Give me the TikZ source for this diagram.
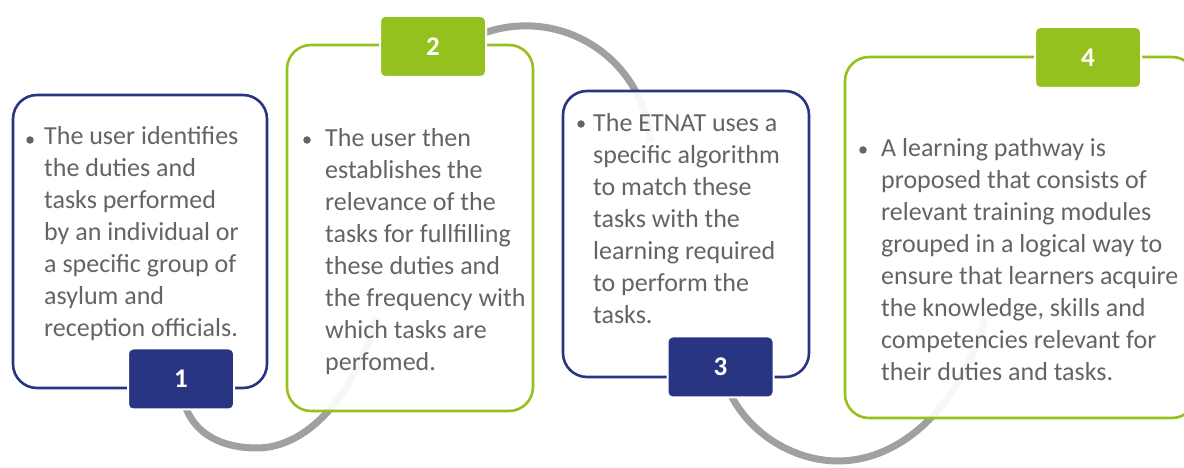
\documentclass[tikz,border=0pt]{standalone}
\usepackage{fontspec}
\setmainfont{Carlito}
\usepackage{tikz}
\usetikzlibrary{positioning}
\definecolor{stepblue}{RGB}{40, 53, 131}
\definecolor{stepgreen}{RGB}{149, 193, 31}
\definecolor{stepgrey}{RGB}{100, 100, 100}
\definecolor{pathgrey}{RGB}{160, 160, 160}
\newcommand{\steplines}[1]{\begin{tabular}[t]{@{}l@{}}#1\end{tabular}}
\tikzset{
  stepcard/.style={
    line width=2.6pt, rounded corners=24pt,
    fill=white, fill opacity=0.92, inner sep=0pt,
  },
  card blue/.style={stepcard, draw=stepblue},
  card green/.style={stepcard, draw=stepgreen},
  numtab/.style={
    draw=white, line width=2pt, rounded corners=5pt,
    minimum width=106pt, minimum height=61pt, inner sep=0pt,
    text=white, font=\fontsize{27}{27}\selectfont\bfseries,
  },
  steptext/.style={anchor=base west, inner sep=0pt, text=stepgrey,
    font=\fontsize{26}{32}\selectfont},
  dotmark/.style={circle, fill=stepgrey, minimum size=7.5pt, inner sep=0pt},
  pathline/.style={draw=pathgrey, line width=7pt},
}

\begin{document}
\begin{tikzpicture}[x=1pt, y=1pt]
\useasboundingbox (0,0) rectangle (1184,468);
\clip (0,0) rectangle (1184,468);

\coordinate (c1) at (181,89);
\coordinate (c2) at (433,421.5);
\coordinate (c3) at (720.5,101);
\coordinate (c4) at (1088,410.5);
\coordinate (e1) at (377,151);
\coordinate (e3) at (985,150);

\draw[pathline] (c1) .. controls (181,40) and (215,20) .. (257,20)
  .. controls (300,20) and (350,60) .. (e1);
\draw[pathline] ([xshift=38pt, yshift=8pt]c2) arc[start angle=116, end angle=4, radius=125pt];
\draw[pathline] (c3) .. controls (735,40) and (790,7) .. (838,7)
  .. controls (900,7) and (960,60) .. (e3);

\node[card blue, minimum width=254pt, minimum height=293pt] (b1) at (140,226.5) {};
\node[card green, minimum width=246pt, minimum height=366pt] (b2) at (410,240) {};
\node[card blue, minimum width=246pt, minimum height=286pt] (b3) at (686,234) {};
\node[card green, minimum width=351pt, minimum height=361pt] (b4) at (1020.5,230.5) {};

\node[numtab, fill=stepblue] (n1) at (c1) {1};
\node[numtab, fill=stepgreen] (n2) at (c2) {2};
\node[numtab, fill=stepblue] (n3) at (c3) {3};
\node[numtab, fill=stepgreen] (n4) at (c4) {4};

\node[dotmark] (d1) at (30,328) {};
\node[steptext] (t1) at (44,323) {\steplines{The user identifies\\ the duties and\\
  tasks performed\\ by an individual or\\ a specific group of\\ asylum and\\
  reception officials.}};
\node[dotmark] (d2) at (307,328) {};
\node[steptext] (t2) at (325,321) {\steplines{The user then\\ establishes the\\
  relevance of the\\ tasks for fullfilling\\ these duties and\\ the frequency with\\
  which tasks are\\ perfomed.}};
\node[dotmark] (d3) at (581,344) {};
\node[steptext] (t3) at (593,336) {\steplines{The ETNAT uses a\\ specific algorithm\\
  to match these\\ tasks with the\\ learning required\\ to perform the\\ tasks.}};
\node[dotmark] (d4) at (863,318) {};
\node[steptext] (t4) at (881,311) {\steplines{A learning pathway is\\ proposed that consists of\\
  relevant training modules\\ grouped in a logical way to\\ ensure that learners acquire\\
  the knowledge, skills and\\ competencies relevant for\\ their duties and tasks.}};

\end{tikzpicture}
\end{document}
